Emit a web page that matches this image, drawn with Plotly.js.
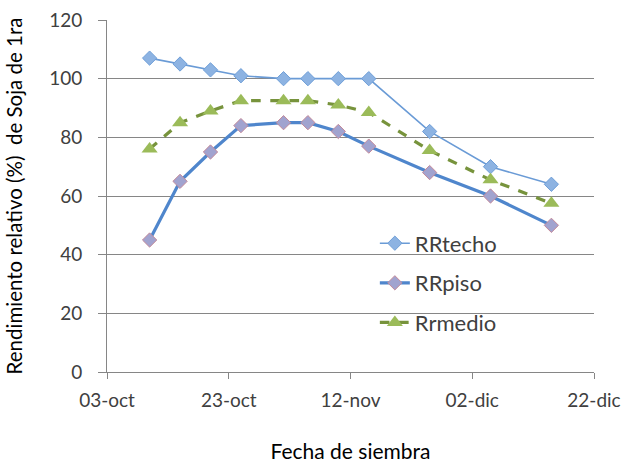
<!DOCTYPE html>
<html>
<head>
<meta charset="utf-8">
<script src="https://cdn.plot.ly/plotly-3.0.1.min.js"></script>
<style>html,body{margin:0;padding:0;background:#fff;}#chart{width:625px;height:464px;}</style>
</head>
<body>
<div id="chart"></div>
<script>
const fechas = ['2013-10-10','2013-10-15','2013-10-20','2013-10-25','2013-11-01','2013-11-05','2013-11-10','2013-11-15','2013-11-25','2013-12-05','2013-12-15'];
const rrTecho = [107, 105, 103, 101, 100, 100, 100, 100, 82, 70, 64];
const rrPiso = [45, 65, 75, 84, 85, 85, 82, 77, 68, 60, 50];
const rrMedio = [76, 85, 89, 92.5, 92.5, 92.5, 91, 88.5, 75.5, 65.5, 57.5];
const tickVals = ['2013-10-03','2013-10-23','2013-11-12','2013-12-02','2013-12-22'];
const tickText = ['03-oct','23-oct','12-nov','02-dic','22-dic'];

const font = 'Lato, "Open Sans", sans-serif';
const traces = [
  {x: fechas, y: rrTecho, name: 'RRtecho', type: 'scatter', mode: 'lines+markers', legendgroup: 'a',
   line: {color: '#6a9bd6', width: 1.6},
   marker: {symbol: 'diamond', size: 11, color: '#8db3e2', line: {color: '#6f9fd8', width: 1}}},
  {x: fechas, y: rrPiso, name: 'RRpiso', type: 'scatter', mode: 'lines+markers', legendgroup: 'b',
   line: {color: '#4f86cc', width: 3.2},
   marker: {symbol: 'diamond', size: 11, color: '#a1a3cf', line: {color: '#c48a9a', width: 1}}},
  {x: fechas, y: rrMedio, name: 'Rrmedio', type: 'scatter', mode: 'lines+markers', legendgroup: 'c',
   line: {color: '#77933c', width: 3.2, dash: 'dash'},
   marker: {symbol: 'triangle-up', size: 14, color: '#9bbb59', line: {width: 0}}}
];

const layout = {
  width: 625, height: 464,
  margin: {l: 107, r: 31, t: 20, b: 92},
  paper_bgcolor: '#fff', plot_bgcolor: '#fff',
  font: {family: font, size: 19, color: '#404040'},
  showlegend: true,
  legend: {x: 0.55, y: 0.425, xanchor: 'left', yanchor: 'top', bgcolor: 'rgba(0,0,0,0)',
           font: {family: font, size: 22, color: '#404040'},
           traceorder: 'grouped', tracegroupgap: 8},
  xaxis: {type: 'date', range: ['2013-10-03','2013-12-22'], tickvals: tickVals, ticktext: tickText,
          showgrid: false, zeroline: false, showline: true, linecolor: '#868686', linewidth: 1,
          ticks: 'outside', ticklen: 6, tickcolor: '#868686', ticklabelstandoff: 5,
          tickfont: {family: font, size: 19, color: '#404040'},
          title: {text: 'Fecha de siembra', font: {family: font, size: 21, color: '#000'}, standoff: 34}},
  yaxis: {range: [0, 120], dtick: 20, showgrid: true, gridcolor: '#868686', gridwidth: 1,
          zeroline: false, showline: true, linecolor: '#868686', linewidth: 1,
          ticks: 'outside', ticklen: 8, tickcolor: '#868686', ticklabelstandoff: 12,
          tickfont: {family: font, size: 19, color: '#404040'},
          title: {text: 'Rendimiento relativo (%)  de Soja de 1ra', font: {family: font, size: 20.5, color: '#000'}, standoff: 20}}
};

Plotly.newPlot('chart', traces, layout, {displayModeBar: false, staticPlot: true});
</script>
</body>
</html>
